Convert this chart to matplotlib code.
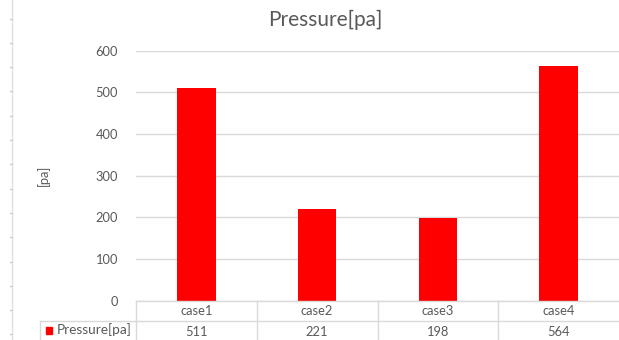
import matplotlib
matplotlib.use("Agg")
import matplotlib.pyplot as plt
from matplotlib.lines import Line2D
from matplotlib.patches import Rectangle
import matplotlib.transforms as mtransforms

# Data
categories = ["case1", "case2", "case3", "case4"]
pressure = [511, 221, 198, 564]
series_name = "Pressure[pa]"
y_ticks = [0, 100, 200, 300, 400, 500, 600]

TEXT = "#595959"
GRID = "#d9d9d9"
BAR = "#ff0000"

plt.rcParams["font.family"] = ["Lato", "DejaVu Sans"]

W, H = 619, 340
fig = plt.figure(figsize=(W / 100, H / 100), dpi=100)
fig.patch.set_facecolor("white")

# plot area in pixels
px_left, px_right = 136, 619
px_bottom, px_top = 300.8, 50.7
ax = fig.add_axes([px_left / W, 1 - px_bottom / H,
                   (px_right - px_left) / W, (px_bottom - px_top) / H])

x = list(range(len(categories)))
ax.bar(x, pressure, width=0.32, color=BAR, zorder=3)

ax.set_xlim(-0.5, len(categories) - 0.5)
ax.set_ylim(0, 600)
ax.set_yticks(y_ticks)
ax.set_yticklabels([str(v) for v in y_ticks], color=TEXT, fontsize=9.3)
ax.tick_params(axis="y", length=0, pad=13)
ax.set_xticks([])
ax.grid(axis="y", color=GRID, linewidth=1, zorder=0)
for s in ax.spines.values():
    s.set_visible(False)

ax.set_ylabel("[pa]", color=TEXT, fontsize=9.3, labelpad=0)
ax.yaxis.set_label_coords((50 - px_left) / (px_right - px_left), 0.5)

fig.text(325 / W, 1 - 20 / H, "Pressure[pa]", ha="center", va="center",
         fontsize=15, color=TEXT)

# data table below the plot area (x in data units, y in pixels below axis)
axes_h = px_bottom - px_top
def yfrac(px_below):
    return -px_below / axes_h

trans = mtransforms.blended_transform_factory(ax.transData, ax.transAxes)
row_h = 20.5
n = len(categories)
lw = 1
# horizontal rules
ax.add_line(Line2D([-0.5, n - 0.5], [0, 0], transform=trans, color=GRID,
                   lw=lw, clip_on=False, zorder=4))
ax.add_line(Line2D([-0.5, n - 0.5], [yfrac(row_h)] * 2, transform=trans,
                   color=GRID, lw=lw, clip_on=False))
# legend cell left boundary in data coordinates
leg_left = -0.5 - (px_left - 40) / ((px_right - px_left) / n)
ax.add_line(Line2D([leg_left, -0.5], [yfrac(row_h)] * 2, transform=trans,
                   color=GRID, lw=lw, clip_on=False))
ax.add_line(Line2D([leg_left, leg_left], [yfrac(row_h), yfrac(2 * row_h + 5)],
                   transform=trans, color=GRID, lw=lw, clip_on=False))
for i in range(n):
    ax.add_line(Line2D([i - 0.5, i - 0.5], [0, yfrac(2 * row_h + 5)],
                       transform=trans, color=GRID, lw=lw, clip_on=False))
for i, (c, v) in enumerate(zip(categories, pressure)):
    ax.text(i, yfrac(row_h * 0.5), c, transform=trans, ha="center",
            va="center", fontsize=9.3, color=TEXT, clip_on=False)
    ax.text(i, yfrac(row_h * 1.5), str(v), transform=trans, ha="center",
            va="center", fontsize=9.3, color=TEXT, clip_on=False)

# legend key in the table
fig.patches.append(Rectangle((46 / W, 1 - 334 / H), 6 / W, 7 / H,
                             transform=fig.transFigure, color=BAR))
fig.text(57 / W, 1 - 330 / H, series_name, ha="left", va="center",
         fontsize=9.8, color=TEXT)

# sheet edge at the far left
fig.add_artist(Line2D([12 / W, 12 / W], [0, 1], transform=fig.transFigure,
                      color="#e0e0e0", lw=1))
yy = 18.5
while yy < H:
    fig.add_artist(Line2D([10 / W, 12 / W], [1 - yy / H] * 2,
                          transform=fig.transFigure, color="#d0d0d0", lw=1))
    yy += 24.3

fig.savefig("out.png", dpi=100)
